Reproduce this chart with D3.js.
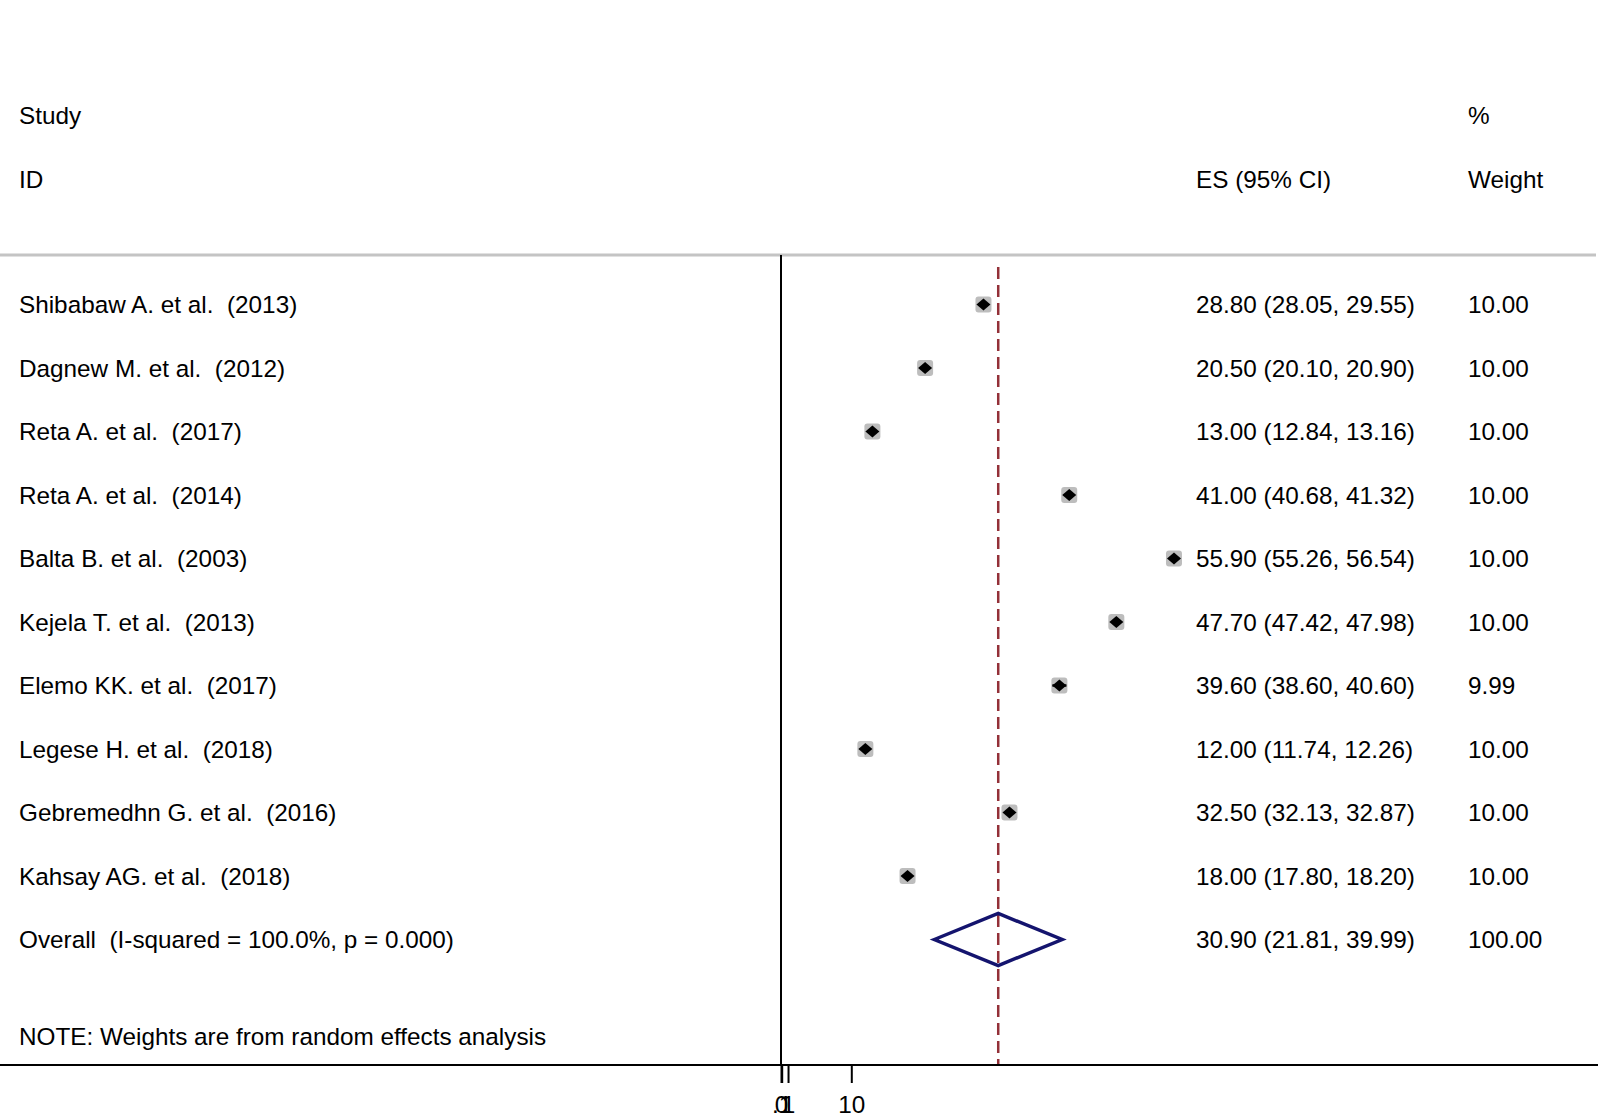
<!doctype html>
<html lang="en">
<head>
  <meta charset="utf-8">
  <title>Forest plot</title>
  <script src="https://d3js.org/d3.v7.min.js"></script>
  <style>
    body { margin: 0; background: #fff; }
    text { font-family: "Liberation Sans", Arial, sans-serif; font-size: 24.3px; fill: #000; white-space: pre; }
  </style>
</head>
<body>
<svg id="chart" width="1598" height="1120"></svg>
<script>
// study data
var studies = ["Shibabaw A. et al.  (2013)", "Dagnew M. et al.  (2012)", "Reta A. et al.  (2017)",
  "Reta A. et al.  (2014)", "Balta B. et al.  (2003)", "Kejela T. et al.  (2013)",
  "Elemo KK. et al.  (2017)", "Legese H. et al.  (2018)", "Gebremedhn G. et al.  (2016)",
  "Kahsay AG. et al.  (2018)"];
var es    = [28.80, 20.50, 13.00, 41.00, 55.90, 47.70, 39.60, 12.00, 32.50, 18.00];
var lo    = [28.05, 20.10, 12.84, 40.68, 55.26, 47.42, 38.60, 11.74, 32.13, 17.80];
var hi    = [29.55, 20.90, 13.16, 41.32, 56.54, 47.98, 40.60, 12.26, 32.87, 18.20];
var weights = ["10.00", "10.00", "10.00", "10.00", "10.00", "10.00", "9.99", "10.00", "10.00", "10.00"];

var overallLabel = "Overall  (I-squared = 100.0%, p = 0.000)";
var overall = {es: 30.90, lo: 21.81, hi: 39.99, weight: "100.00"};

var tickValues = [0, 0.1, 1, 10];
var tickLabels = ["0", ".1", "1", "10"];

var svg = d3.select("#chart");

// x scale (linear, null at 0)
var x = d3.scaleLinear().domain([0, 60]).range([781, 1202.8]);

// row positions
var rowY = d3.scaleLinear().domain([0, 1]).range([304.5, 368]);

var labelX = 19, esX = 1196, wX = 1468;
var axisY = 1065;

// headers
svg.append("text").attr("x", labelX).attr("y", 115).attr("dy", "0.35em").text("Study");
svg.append("text").attr("x", labelX).attr("y", 179).attr("dy", "0.35em").text("ID");
svg.append("text").attr("x", esX).attr("y", 179).attr("dy", "0.35em").text("ES (95% CI)");
svg.append("text").attr("x", wX).attr("y", 115).attr("dy", "0.35em").text("%");
svg.append("text").attr("x", wX).attr("y", 179).attr("dy", "0.35em").text("Weight");

// grey separator
svg.append("line").attr("x1", 0).attr("x2", 1596).attr("y1", 255).attr("y2", 255)
  .attr("stroke", "#c4c4c4").attr("stroke-width", 3);

// null line
svg.append("line").attr("x1", x(0)).attr("x2", x(0)).attr("y1", 255).attr("y2", axisY)
  .attr("stroke", "#000").attr("stroke-width", 2);

// overall effect dashed line
svg.append("line").attr("x1", x(overall.es)).attr("x2", x(overall.es)).attr("y1", 267).attr("y2", axisY)
  .attr("stroke", "#933038").attr("stroke-width", 2.5).attr("stroke-dasharray", "12,6");

// study rows
var rows = svg.append("g").selectAll("g").data(studies).enter().append("g");

rows.append("text").attr("x", labelX).attr("y", function(d, i) { return rowY(i); })
  .attr("dy", "0.35em").text(function(d) { return d; });
rows.append("text").attr("x", esX).attr("y", function(d, i) { return rowY(i); })
  .attr("dy", "0.35em")
  .text(function(d, i) { return es[i].toFixed(2) + " (" + lo[i].toFixed(2) + ", " + hi[i].toFixed(2) + ")"; });
rows.append("text").attr("x", wX).attr("y", function(d, i) { return rowY(i); })
  .attr("dy", "0.35em").text(function(d, i) { return weights[i]; });

// weight boxes
rows.append("rect")
  .attr("x", function(d, i) { return x(es[i]) - 8; })
  .attr("y", function(d, i) { return rowY(i) - 8; })
  .attr("width", 16).attr("height", 16).attr("rx", 3)
  .attr("fill", "#bdbdbd");

// CI lines
rows.append("line")
  .attr("x1", function(d, i) { return x(lo[i]); })
  .attr("x2", function(d, i) { return x(hi[i]); })
  .attr("y1", function(d, i) { return rowY(i); })
  .attr("y2", function(d, i) { return rowY(i); })
  .attr("stroke", "#000").attr("stroke-width", 2.5);

// point estimates
rows.append("path")
  .attr("d", function(d, i) {
    var cx = x(es[i]), cy = rowY(i);
    return "M" + (cx - 7) + "," + cy + "L" + cx + "," + (cy - 6) + "L" + (cx + 7) + "," + cy + "L" + cx + "," + (cy + 6) + "Z";
  })
  .attr("fill", "#000");

// overall row
var oy = rowY(studies.length);
svg.append("text").attr("x", labelX).attr("y", oy).attr("dy", "0.35em").text(overallLabel);
svg.append("text").attr("x", esX).attr("y", oy).attr("dy", "0.35em")
  .text(overall.es.toFixed(2) + " (" + overall.lo.toFixed(2) + ", " + overall.hi.toFixed(2) + ")");
svg.append("text").attr("x", wX).attr("y", oy).attr("dy", "0.35em").text(overall.weight);

svg.append("path")
  .attr("d", "M" + x(overall.lo) + "," + oy + "L" + x(overall.es) + "," + (oy - 26) +
    "L" + x(overall.hi) + "," + oy + "L" + x(overall.es) + "," + (oy + 26) + "Z")
  .attr("fill", "none").attr("stroke", "#14146e").attr("stroke-width", 3.5)
  .attr("stroke-linejoin", "miter");

// note
svg.append("text").attr("x", labelX).attr("y", 1036).attr("dy", "0.35em")
  .text("NOTE: Weights are from random effects analysis");

// x axis
svg.append("line").attr("x1", 0).attr("x2", 1598).attr("y1", axisY).attr("y2", axisY)
  .attr("stroke", "#000").attr("stroke-width", 2);

var axis = d3.axisBottom(x).tickValues(tickValues).tickSize(18).tickPadding(13)
  .tickFormat(function(d, i) { return tickLabels[i]; });
var gAxis = svg.append("g").attr("transform", "translate(0," + axisY + ")").call(axis);
gAxis.select(".domain").remove();
gAxis.selectAll(".tick line").attr("stroke", "#000").attr("stroke-width", 2);
gAxis.selectAll(".tick text").style("font-size", "24.3px")
  .style("font-family", "Liberation Sans, Arial, sans-serif").attr("fill", "#000");
</script>
</body>
</html>
